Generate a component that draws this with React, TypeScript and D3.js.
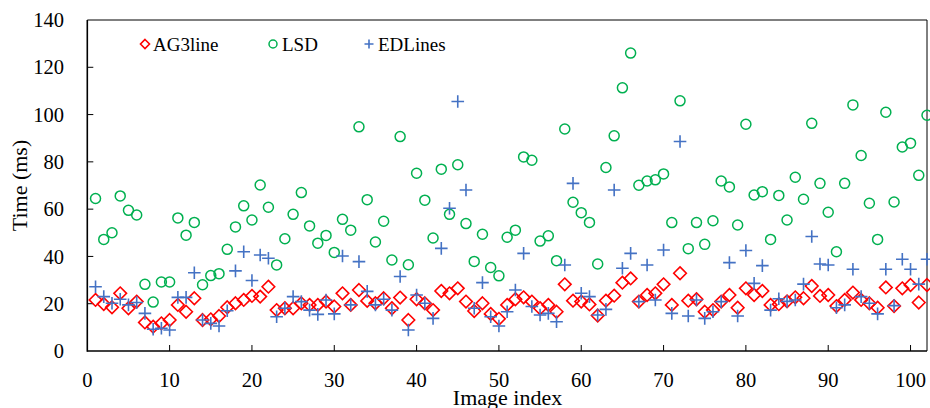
import React from "react";
import * as d3 from "d3";

const indices = d3.range(1, 103);

const ag3line = [
  21.6, 19.9, 18.5, 24.4, 18.1, 20.9, 12.1, 10.3, 11.7, 13.1,
  19.5, 16.6, 22.3, 13.1, 13.4, 14.8, 18.5, 20.2, 21.6, 23.3,
  23.0, 27.2, 17.3, 18.1, 18.1, 20.2, 19.5, 19.5, 20.9, 18.8,
  24.4, 19.5, 25.8, 21.2, 20.2, 22.3, 18.1, 22.6, 13.1, 21.9,
  20.2, 17.3, 25.4, 24.4, 26.5, 20.9, 16.9, 20.2, 15.7, 13.6,
  19.5, 21.9, 22.7, 20.9, 18.1, 19.5, 16.6, 28.2, 21.3, 20.9,
  19.7, 15.0, 21.3, 23.4, 28.9, 30.7, 20.9, 23.7, 24.4, 28.2,
  19.5, 32.9, 21.3, 21.9, 16.6, 17.3, 20.9, 23.7, 18.3, 26.5,
  23.7, 25.4, 19.5, 19.8, 21.0, 22.7, 22.3, 27.5, 23.3, 23.7,
  19.0, 21.6, 24.7, 21.6, 20.2, 18.3, 26.9, 19.0, 26.5, 27.9,
  20.5, 27.9,
];

const lsd = [
  64.5, 47.2, 50.0, 65.6, 59.5, 57.5, 28.2, 20.7, 29.2, 29.2,
  56.3, 49.0, 54.4, 28.0, 31.9, 32.7, 43.0, 52.5, 61.4, 55.4,
  70.2, 60.8, 36.4, 47.5, 57.8, 67.0, 52.9, 45.6, 48.9, 41.7,
  55.7, 51.1, 94.8, 64.0, 46.1, 54.9, 38.5, 90.7, 36.5, 75.2,
  63.8, 47.8, 76.9, 57.8, 78.8, 53.9, 37.9, 49.4, 35.3, 31.8,
  48.1, 51.1, 82.1, 80.7, 46.5, 48.7, 38.2, 93.9, 62.9, 58.5,
  54.4, 36.8, 77.6, 91.0, 111.3, 126.0, 70.1, 71.9, 72.4, 74.9,
  54.3, 105.8, 43.3, 54.3, 45.1, 55.1, 71.9, 69.4, 53.3, 95.9,
  66.0, 67.4, 47.2, 65.8, 55.4, 73.5, 64.2, 96.3, 70.9, 58.7,
  42.0, 70.9, 104.1, 82.7, 62.5, 47.2, 101.0, 63.0, 86.3, 87.9,
  74.3, 99.7,
];

const edlines = [
  27.2, 23.0, 20.2, 21.9, 19.5, 20.5, 15.9, 9.2, 9.6, 8.9,
  22.7, 22.7, 33.1, 13.1, 11.7, 10.6, 17.0, 33.9, 42.0, 29.8,
  40.6, 39.2, 14.5, 18.1, 23.0, 20.9, 17.3, 15.5, 21.6, 15.7,
  40.2, 19.5, 37.8, 25.2, 19.5, 21.9, 17.3, 31.5, 8.9, 23.7,
  20.2, 13.8, 43.4, 60.4, 105.5, 68.1, 18.1, 28.9, 14.5, 10.6,
  16.6, 25.8, 41.3, 18.8, 15.2, 15.9, 12.4, 36.4, 70.9, 24.4,
  23.0, 15.2, 17.6, 68.1, 35.0, 41.3, 20.9, 36.4, 21.6, 42.7,
  15.9, 88.6, 14.8, 21.6, 13.8, 16.6, 20.9, 37.4, 14.8, 42.5,
  28.6, 36.1, 17.3, 22.1, 21.0, 21.6, 28.3, 48.4, 36.8, 36.4,
  18.3, 19.5, 34.6, 23.0, 20.2, 15.7, 34.6, 19.2, 38.8, 34.6,
  28.3, 38.8,
];

const xTicks = [0, 10, 20, 30, 40, 50, 60, 70, 80, 90, 100];
const yTicks = [0, 20, 40, 60, 80, 100, 120, 140];
const seriesNames = ["AG3line", "LSD", "EDLines"];

const W = 930;
const H = 408;
const left = 87.3;
const right = 927;
const top = 20;
const bottom = 351;
const font = "'Liberation Serif', 'Times New Roman', serif";

const RED = "#FF0000";
const GREEN = "#00B050";
const BLUE = "#4472C4";

function Diamond({ x, y, r, color }: { x: number; y: number; r: number; color: string }) {
  return (
    <path
      d={`M${x},${y - r}L${x + r},${y}L${x},${y + r}L${x - r},${y}Z`}
      fill="none"
      stroke={color}
      strokeWidth={1.6}
    />
  );
}

function Circle({ x, y, r, color }: { x: number; y: number; r: number; color: string }) {
  return <circle cx={x} cy={y} r={r} fill="none" stroke={color} strokeWidth={1.5} />;
}

function Cross({ x, y, r, color }: { x: number; y: number; r: number; color: string }) {
  return (
    <path
      d={`M${x - r},${y}L${x + r},${y}M${x},${y - r}L${x},${y + r}`}
      fill="none"
      stroke={color}
      strokeWidth={1.6}
    />
  );
}

export default function App() {
  const xs = d3.scaleLinear().domain([0, 102]).range([left, right]);
  const ys = d3.scaleLinear().domain([0, 140]).range([bottom, top]);

  return (
    <svg
      width={W}
      height={H}
      style={{ position: "absolute", left: 0, top: 0, background: "#fff" }}
      fontFamily={font}
    >
      <rect x={0} y={0} width={W} height={H} fill="#fff" />
      {/* frame */}
      <line x1={left} x2={right} y1={top} y2={top} stroke="#000" strokeWidth={1} />
      <line x1={right} x2={right} y1={top} y2={bottom} stroke="#000" strokeWidth={1} />
      <line x1={left} x2={left} y1={top} y2={bottom + 0.75} stroke="#000" strokeWidth={1.6} />
      <line x1={left} x2={right} y1={bottom} y2={bottom} stroke="#000" strokeWidth={1.6} />

      {/* y ticks */}
      {yTicks.map((t) => (
        <g key={"y" + t}>
          {t > 0 && t < 140 && (
            <line x1={left} x2={left + 6} y1={ys(t)} y2={ys(t)} stroke="#000" strokeWidth={1} />
          )}
          <text x={64} y={ys(t)} dy="0.35em" textAnchor="end" fontSize={20.5} fill="#000">
            {t}
          </text>
        </g>
      ))}
      {/* x ticks */}
      {xTicks.map((t) => (
        <g key={"x" + t}>
          {t > 0 && (
            <line x1={xs(t)} x2={xs(t)} y1={bottom} y2={bottom - 6} stroke="#000" strokeWidth={1} />
          )}
          <text x={xs(t)} y={387} textAnchor="middle" fontSize={20.5} fill="#000">
            {t}
          </text>
        </g>
      ))}

      <text x={507.5} y={405} textAnchor="middle" fontSize={22} fill="#000">
        Image index
      </text>
      <text
        transform={`translate(27,${(top + bottom) / 2}) rotate(-90)`}
        textAnchor="middle"
        fontSize={22}
        fill="#000"
      >
        Time (ms)
      </text>

      {/* data */}
      <g>
        {ag3line.map((v, i) => (
          <Diamond key={"a" + i} x={xs(indices[i])} y={ys(v)} r={6.3} color={RED} />
        ))}
      </g>
      <g>
        {lsd.map((v, i) => (
          <Circle key={"l" + i} x={xs(indices[i])} y={ys(v)} r={5} color={GREEN} />
        ))}
      </g>
      <g>
        {edlines.map((v, i) => (
          <Cross key={"e" + i} x={xs(indices[i])} y={ys(v)} r={6.3} color={BLUE} />
        ))}
      </g>

      {/* legend */}
      <g fontSize={19} fill="#000">
        <Diamond x={145} y={44} r={4.5} color={RED} />
        <text x={153} y={44} dy="0.35em">{seriesNames[0]}</text>
        <Circle x={273} y={44} r={4} color={GREEN} />
        <text x={282} y={44} dy="0.35em">{seriesNames[1]}</text>
        <Cross x={369} y={44} r={4.5} color={BLUE} />
        <text x={378} y={44} dy="0.35em">{seriesNames[2]}</text>
      </g>
    </svg>
  );
}
